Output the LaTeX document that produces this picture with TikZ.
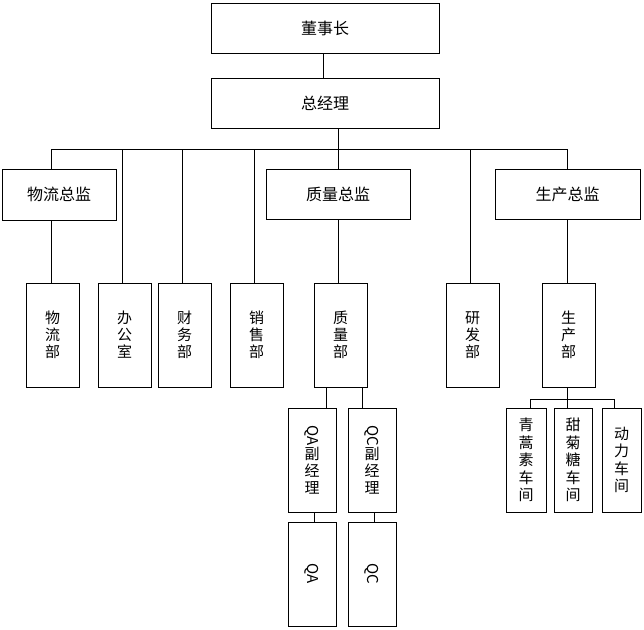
\documentclass[tikz,border=0pt]{standalone}
\usepackage{fontspec}
\setmainfont{Noto Sans CJK SC}
\begin{document}
\begin{tikzpicture}[x=1pt,y=-1pt,
  box/.style={draw,line width=1pt,inner sep=0pt,font=\fontsize{16}{17}\selectfont},
  hbox/.style={box,minimum height=50pt},
  vbox/.style={box,align=center,minimum width=53pt,minimum height=104pt,font=\fontsize{15}{17}\selectfont},
  nbox/.style={box,align=center,minimum width=48pt,minimum height=104pt,font=\fontsize{15}{17}\selectfont},
  wbox/.style={box,align=center,minimum width=39pt,minimum height=104pt,font=\fontsize{15}{17.5}\selectfont},
  ln/.style={line width=1pt}]
\useasboundingbox (0,0) rectangle (644,629);
% top
\node[hbox,minimum width=228pt] (dsz) at (325,28) {董事长};
\node[hbox,minimum width=228pt] (zjl) at (325,103) {总经理};
% level 2
\node[hbox,minimum width=114pt,minimum height=51pt] (wlzj) at (59,194.5) {物流总监};
\node[hbox,minimum width=144pt] (zlzj) at (338,194) {质量总监};
\node[hbox,minimum width=145pt] (sczj) at (567.5,194) {生产总监};
% level 3
\node[vbox] (wlb) at (52.5,335) {物\\流\\部};
\node[vbox] (bgs) at (124.5,335) {办\\公\\室};
\node[vbox] (cwb) at (184.5,335) {财\\务\\部};
\node[vbox] (xsb) at (256.5,335) {销\\售\\部};
\node[vbox] (zlb) at (340.5,335) {质\\量\\部};
\node[vbox] (yfb) at (472.5,335) {研\\发\\部};
\node[vbox] (scb) at (568.5,335) {生\\产\\部};
% QA/QC
\node[nbox] (qaf) at (312,460) {\rotatebox[origin=c]{-90}{QA}\\副\\经\\理};
\node[nbox] (qcf) at (372,460) {\rotatebox[origin=c]{-90}{QC}\\副\\经\\理};
\node[nbox] (qa) at (312,574) {\rotatebox[origin=c]{-90}{QA}};
\node[nbox] (qc) at (372,574) {\rotatebox[origin=c]{-90}{QC}};
% workshops
\node[wbox,minimum width=40pt] (qhs) at (526,460) {青\\蒿\\素\\车\\间};
\node[wbox,minimum width=38pt] (tjt) at (573,460) {甜\\菊\\糖\\车\\间};
\node[wbox] (dl) at (621.5,460) {动\\力\\车\\间};
% coordinates for bus
\coordinate (b0) at (51,149);
\coordinate (b1) at (567,149);
\coordinate (s0) at (530,399);
\coordinate (s1) at (614,399);
% connectors
\draw[ln] (dsz.south -| 323,0) -- (zjl.north -| 323,0);
\draw[ln] (zjl.south -| 338,0) -- (338,149);
\draw[ln] (b0) -- (b1);
\draw[ln] (b0) -- (b0 |- wlzj.north);
\draw[ln] (wlzj.south -| b0) -- (wlb.north -| b0);
\draw[ln] (122,149) -- (bgs.north -| 122,0);
\draw[ln] (182,149) -- (cwb.north -| 182,0);
\draw[ln] (254,149) -- (xsb.north -| 254,0);
\draw[ln] (338,149) -- (zlzj.north -| 338,0);
\draw[ln] (zlzj.south -| 338,0) -- (zlb.north -| 338,0);
\draw[ln] (470,149) -- (yfb.north -| 470,0);
\draw[ln] (b1) -- (sczj.north -| b1);
\draw[ln] (sczj.south -| b1) -- (scb.north -| b1);
\draw[ln] (zlb.south -| 326,0) -- (qaf.north -| 326,0);
\draw[ln] (zlb.south -| 362,0) -- (qcf.north -| 362,0);
\draw[ln] (qaf.south -| 314,0) -- (qa.north -| 314,0);
\draw[ln] (qcf.south -| 374,0) -- (qc.north -| 374,0);
\draw[ln] (scb.south -| 567,0) -- (567,399);
\draw[ln] (s0) -- (s1);
\draw[ln] (s0) -- (qhs.north -| s0);
\draw[ln] (567,399) -- (tjt.north -| 567,0);
\draw[ln] (s1) -- (dl.north -| s1);
\end{tikzpicture}
\end{document}
